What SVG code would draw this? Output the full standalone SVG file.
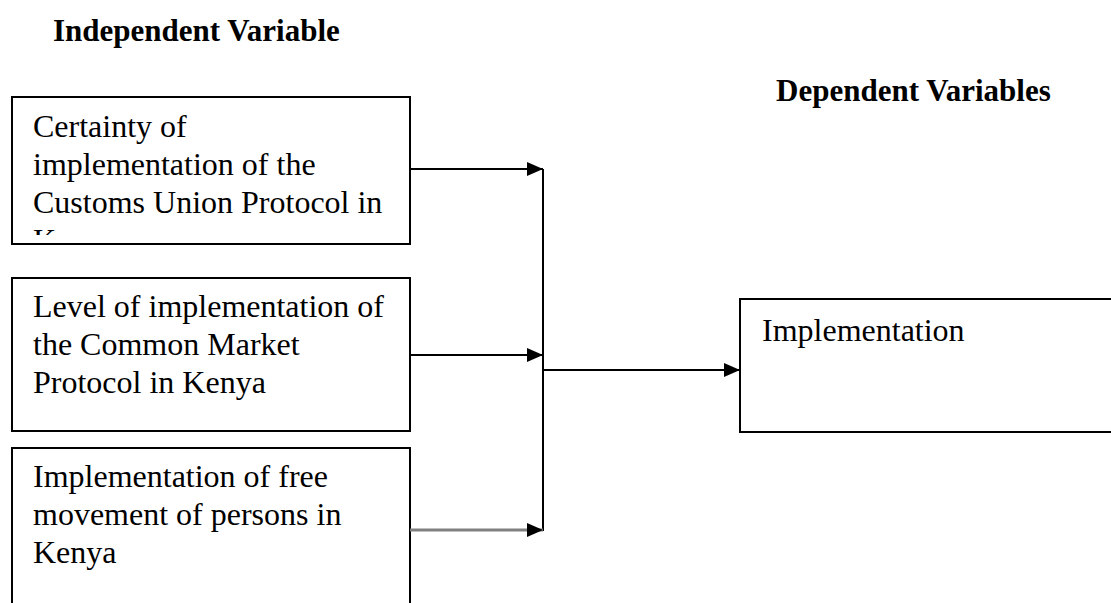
<svg xmlns="http://www.w3.org/2000/svg" width="1111" height="603" viewBox="0 0 1111 603">
<style>
.box{fill:#fff;stroke:#000;stroke-width:2}
.t{font-family:"Liberation Serif","Times New Roman",serif;font-size:32px;fill:#000}
.h{font-family:"Liberation Serif","Times New Roman",serif;font-size:31px;font-weight:bold;fill:#000}
.ln{fill:none;stroke:#000;stroke-width:2}
.gray{fill:none;stroke:#808080;stroke-width:3}
</style>
<defs>
<marker id="ah" markerUnits="userSpaceOnUse" markerWidth="16" markerHeight="16" viewBox="0 0 16 16" refX="16" refY="8" orient="auto">
<path d="M0,1 L16,8 L0,15 Z" fill="#000"/>
</marker>
<clipPath id="c1"><rect x="12" y="97" width="398" height="138"/></clipPath>
</defs>
<rect width="1111" height="603" fill="#fff"/>
<text class="h" x="53" y="41">Independent Variable</text>
<text class="h" x="776" y="101">Dependent Variables</text>
<g id="n1">
<rect class="box" x="12" y="97" width="398" height="147"/>
<g clip-path="url(#c1)">
<text class="t" x="33" y="137">Certainty of</text>
<text class="t" x="33" y="175">implementation of the</text>
<text class="t" x="33" y="213">Customs Union Protocol in</text>
<text class="t" x="33" y="251">Kenya</text>
</g>
</g>
<g id="n2">
<rect class="box" x="12" y="278" width="398" height="153"/>
<text class="t" x="33" y="317">Level of implementation of</text>
<text class="t" x="33" y="355">the Common Market</text>
<text class="t" x="33" y="393">Protocol in Kenya</text>
</g>
<g id="n3">
<rect class="box" x="12" y="448" width="398" height="170"/>
<text class="t" x="33" y="487">Implementation of free</text>
<text class="t" x="33" y="525">movement of persons in</text>
<text class="t" x="33" y="563">Kenya</text>
</g>
<g id="n4">
<rect class="box" x="740" y="299" width="380" height="133"/>
<text class="t" x="762" y="341">Implementation</text>
</g>
<g id="connectors">
<line class="ln" x1="543" y1="169" x2="543" y2="531"/>
<line class="ln" x1="410" y1="169" x2="543" y2="169" marker-end="url(#ah)"/>
<line class="ln" x1="410" y1="355" x2="543" y2="355" marker-end="url(#ah)"/>
<line class="gray" x1="410" y1="530" x2="543" y2="530" marker-end="url(#ah)"/>
<line class="ln" x1="543" y1="370" x2="740" y2="370" marker-end="url(#ah)"/>
</g>
</svg>
